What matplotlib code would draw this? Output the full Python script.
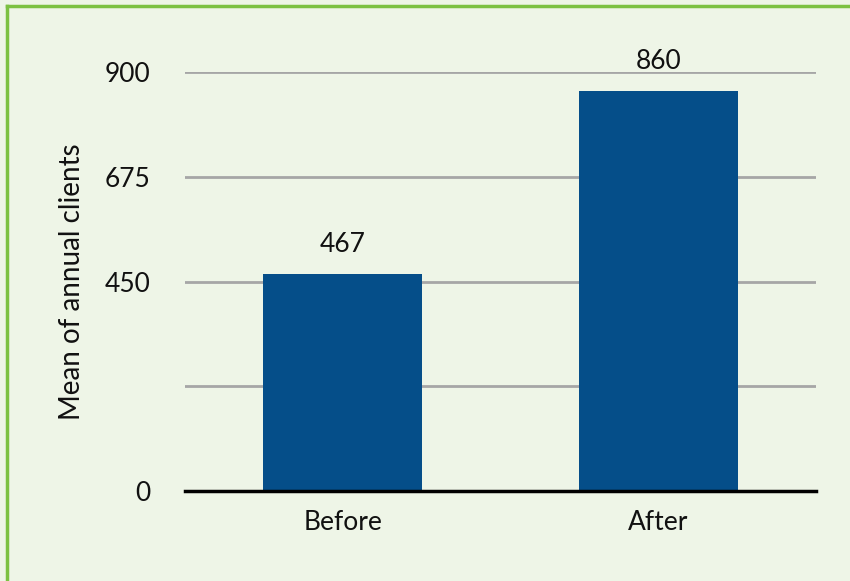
import matplotlib.pyplot as plt
from matplotlib.lines import Line2D

# data
categories = ['Before', 'After']
mean_clients = [467, 860]
y_ticks = [0, 225, 450, 675, 900]
y_tick_labels = ['0', '', '450', '675', '900']

bg = '#eef5e7'
bar_color = '#054e89'
border = '#7cc142'

plt.rcParams['font.family'] = ['Lato', 'DejaVu Sans']

fig = plt.figure(figsize=(8.5, 5.81), dpi=100, facecolor=bg)
ax = fig.add_axes([185/850, 1 - 491/581, 631/850, 419/581])
ax.set_facecolor(bg)

x = range(len(categories))
bars = ax.bar(x, mean_clients, width=0.505, color=bar_color, zorder=3)
for b, v in zip(bars, mean_clients):
  ax.annotate(str(v), (b.get_x() + b.get_width()/2, v), xytext=(0, 12),
              textcoords='offset points', ha='center', va='bottom',
              fontsize=19, color='#111111')

ax.set_xlim(-0.5, 1.5)
ax.set_ylim(0, 900)
ax.set_xticks(list(x))
ax.set_xticklabels(categories, fontsize=19, color='#111111')
ax.set_yticks(y_ticks)
ax.set_yticklabels(y_tick_labels, fontsize=19, color='#111111')
ax.tick_params(axis='both', length=0)
ax.tick_params(axis='y', pad=25)
ax.tick_params(axis='x', pad=14)
ax.grid(axis='y', color='#a6a6a6', linewidth=2, zorder=0)
ax.set_axisbelow(True)
for s in ['left', 'right', 'top']:
  ax.spines[s].set_visible(False)
ax.spines['bottom'].set_linewidth(2.5)
ax.spines['bottom'].set_color('black')
ax.spines['bottom'].set_zorder(4)

ax.set_ylabel('Mean of annual clients', fontsize=20, color='#111111', labelpad=14)

# green frame on left and top
fig.add_artist(Line2D([7/850, 7/850], [0, 1 - 6/581], color=border, linewidth=2.5))
fig.add_artist(Line2D([7/850, 1], [1 - 6/581, 1 - 6/581], color=border, linewidth=2.5))

fig.savefig('out.png', dpi=100, facecolor=bg)
